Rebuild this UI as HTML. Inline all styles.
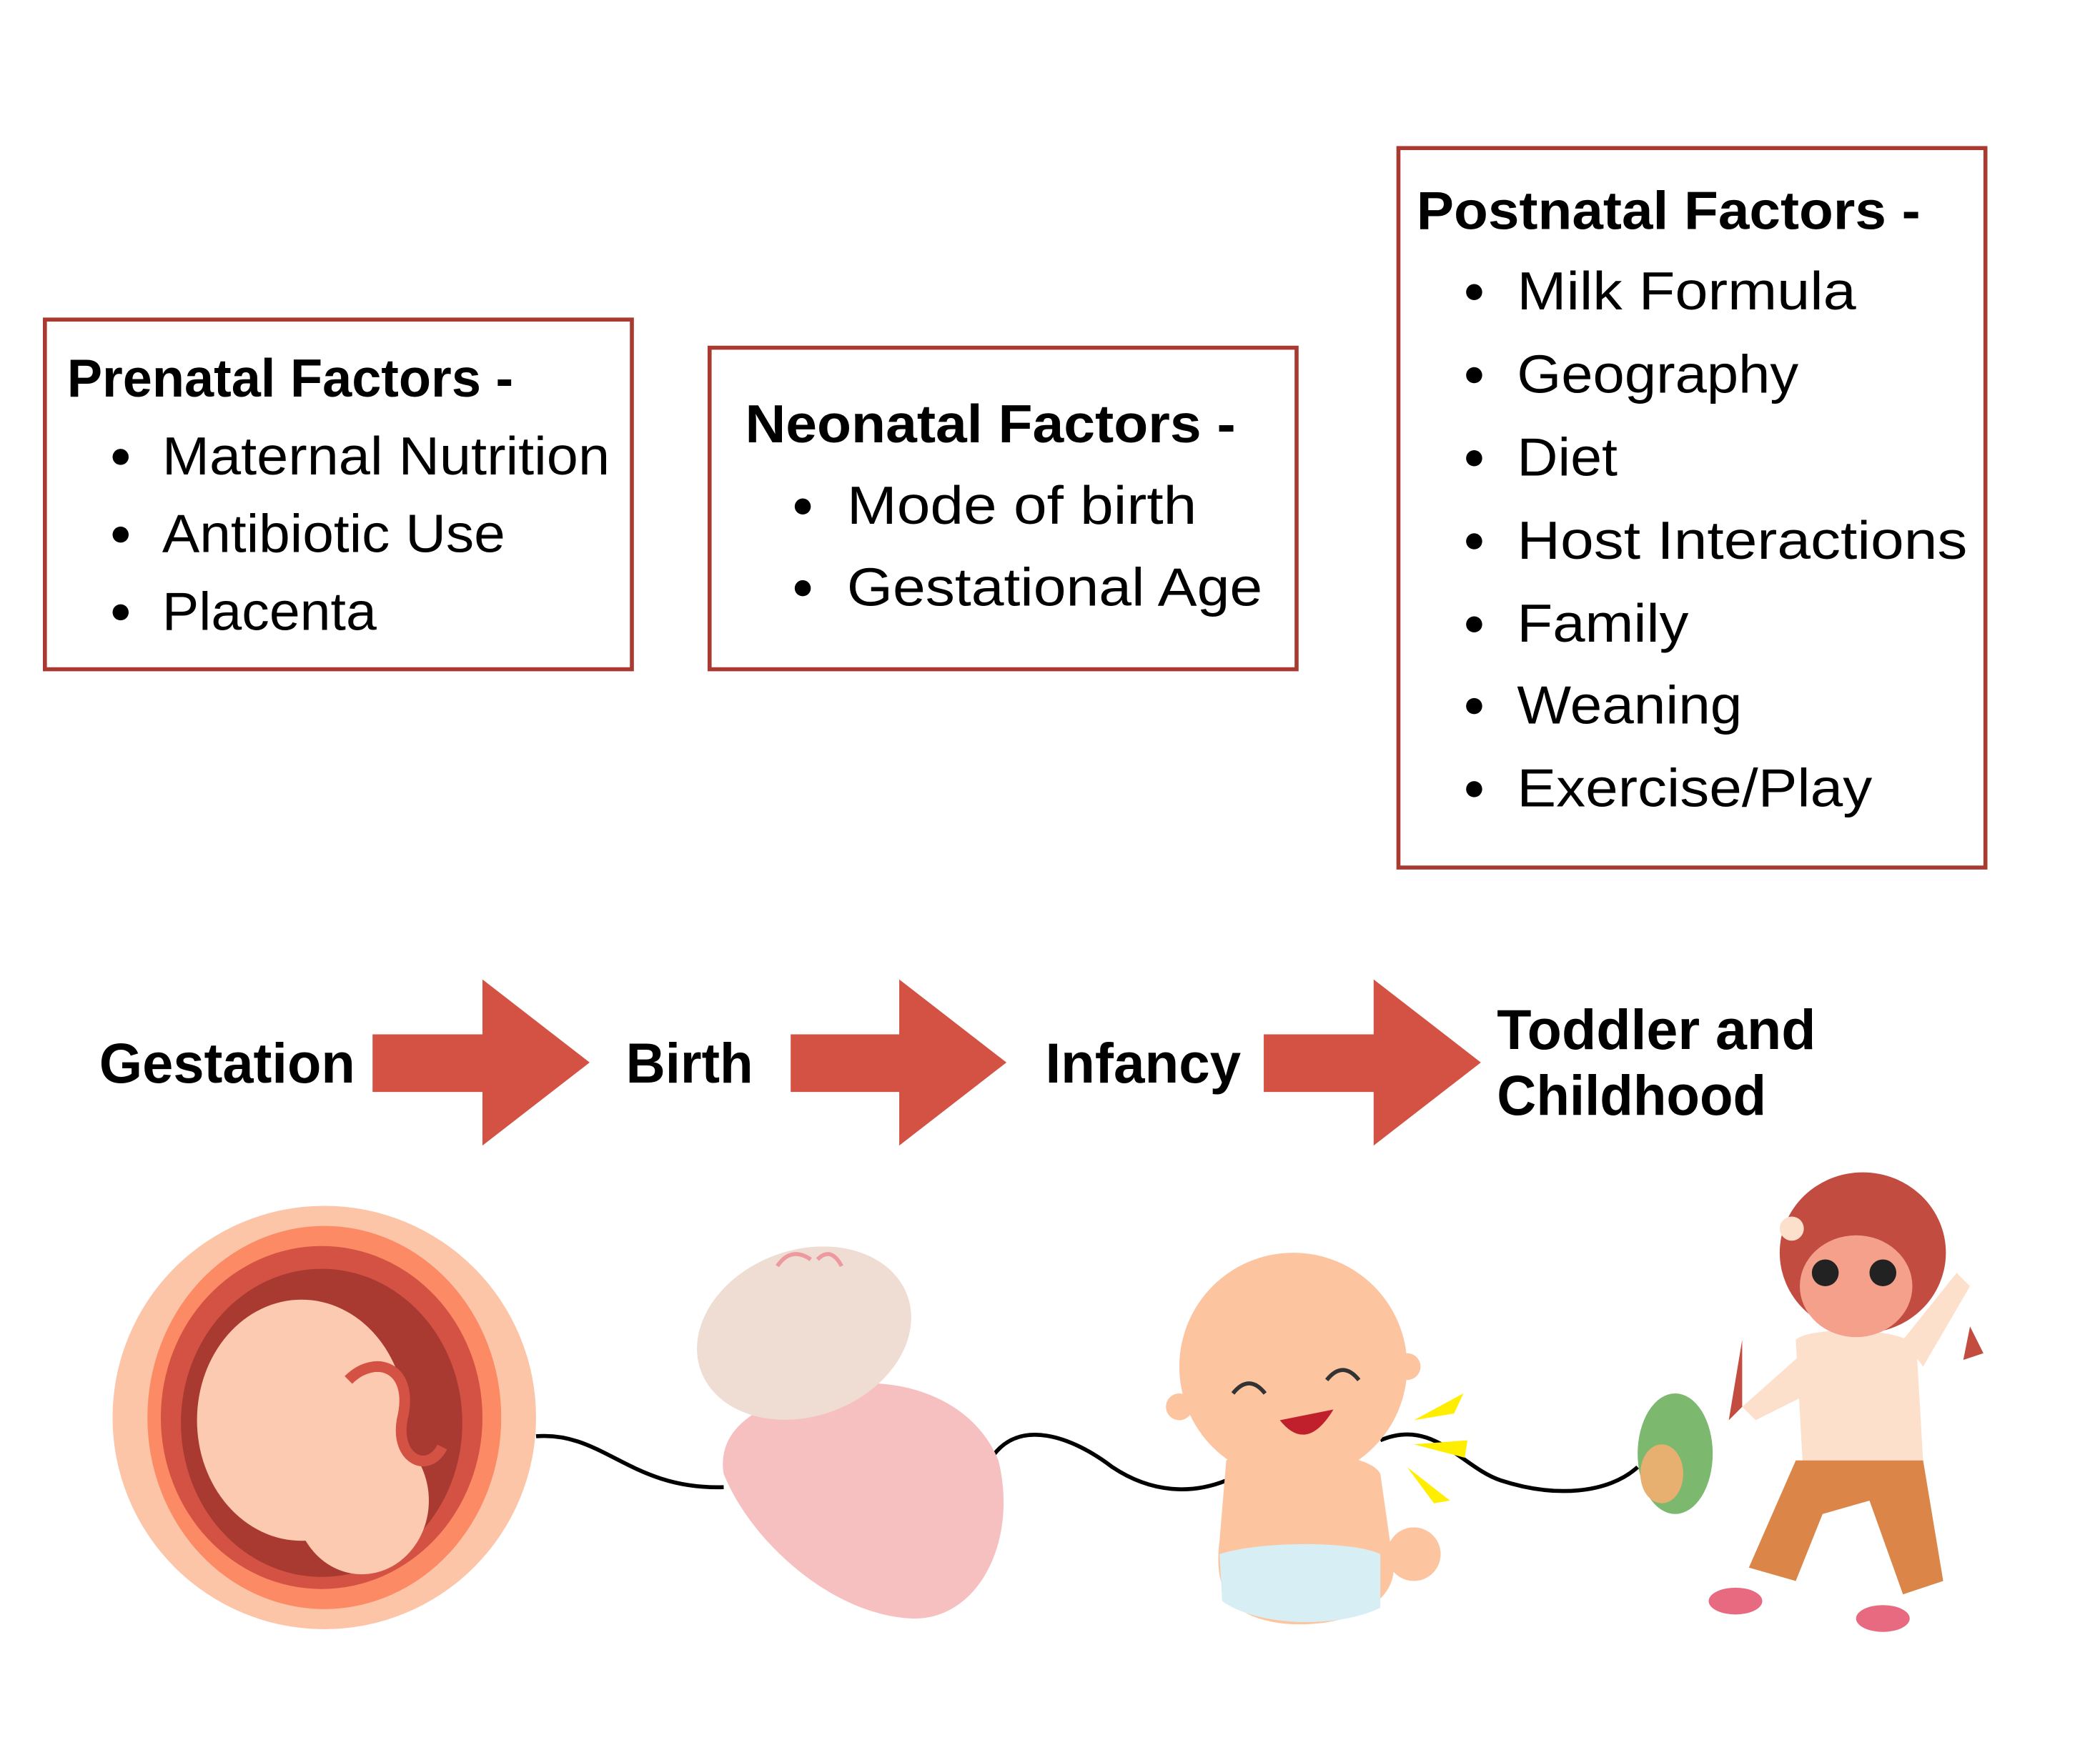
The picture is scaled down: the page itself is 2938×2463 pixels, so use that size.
<!DOCTYPE html>
<html><head><meta charset="utf-8"><style>
html,body{margin:0;padding:0;background:#fff;width:2938px;height:2463px;overflow:hidden}
svg{display:block}
text{font-family:"Liberation Sans",sans-serif;fill:#000}
.t{font-weight:bold;font-size:40px}
.i{font-size:40px}
.l{font-weight:bold;font-size:42px}
</style></head><body>
<svg width="2938" height="2463" viewBox="0 0 1567 1313.6" xmlns="http://www.w3.org/2000/svg">
<rect width="1567" height="1314" fill="#fff"/>
<g fill="none" stroke="#a83a32" stroke-width="3">
<rect x="33.5" y="238.5" width="438" height="261"/>
<rect x="529.5" y="259.5" width="438" height="240"/>
<rect x="1043.5" y="110.5" width="438" height="537"/>
</g>
<text class="t" x="50" y="296" textLength="333" lengthAdjust="spacingAndGlyphs">Prenatal Factors -</text>
<g fill="#000"><circle cx="90" cy="341" r="6"/><circle cx="90" cy="399" r="6"/><circle cx="90" cy="457" r="6"/>
<circle cx="599" cy="378" r="6"/><circle cx="599" cy="439" r="6"/>
<circle cx="1100" cy="218" r="6"/><circle cx="1100" cy="280" r="6"/><circle cx="1100" cy="342" r="6"/><circle cx="1100" cy="404" r="6"/><circle cx="1100" cy="466" r="6"/><circle cx="1100" cy="527" r="6"/><circle cx="1100" cy="589" r="6"/></g>
<text class="i" x="121" y="354" textLength="334" lengthAdjust="spacingAndGlyphs">Maternal Nutrition</text>
<text class="i" x="121" y="412" textLength="256" lengthAdjust="spacingAndGlyphs">Antibiotic Use</text>
<text class="i" x="121" y="470" textLength="160" lengthAdjust="spacingAndGlyphs">Placenta</text>
<text class="t" x="556" y="330" textLength="366" lengthAdjust="spacingAndGlyphs">Neonatal Factors -</text>
<text class="i" x="632" y="391" textLength="261" lengthAdjust="spacingAndGlyphs">Mode of birth</text>
<text class="i" x="632" y="452" textLength="310" lengthAdjust="spacingAndGlyphs">Gestational Age</text>
<text class="t" x="1057" y="171" textLength="376" lengthAdjust="spacingAndGlyphs">Postnatal Factors -</text>
<text class="i" x="1132" y="231" textLength="253" lengthAdjust="spacingAndGlyphs">Milk Formula</text>
<text class="i" x="1132" y="293" textLength="210" lengthAdjust="spacingAndGlyphs">Geography</text>
<text class="i" x="1132" y="355" textLength="75" lengthAdjust="spacingAndGlyphs">Diet</text>
<text class="i" x="1132" y="417" textLength="336" lengthAdjust="spacingAndGlyphs">Host Interactions</text>
<text class="i" x="1132" y="479" textLength="128" lengthAdjust="spacingAndGlyphs">Family</text>
<text class="i" x="1132" y="540" textLength="168" lengthAdjust="spacingAndGlyphs">Weaning</text>
<text class="i" x="1132" y="602" textLength="265" lengthAdjust="spacingAndGlyphs">Exercise/Play</text>

<g fill="#d35244">
<polygon points="278,772 360,772 360,731 440,793 360,855 360,815 278,815"/>
<polygon points="590,772 671,772 671,731 751,793 671,855 671,815 590,815"/>
<polygon points="943,772 1025,772 1025,731 1105,793 1025,855 1025,815 943,815"/>
</g>
<text class="l" x="74" y="808" textLength="191" lengthAdjust="spacingAndGlyphs">Gestation</text>
<text class="l" x="467" y="808" textLength="95" lengthAdjust="spacingAndGlyphs">Birth</text>
<text class="l" x="780" y="808" textLength="146" lengthAdjust="spacingAndGlyphs">Infancy</text>
<text class="l" x="1117" y="783" textLength="238" lengthAdjust="spacingAndGlyphs">Toddler and</text>
<text class="l" x="1117" y="832" textLength="201" lengthAdjust="spacingAndGlyphs">Childhood</text>

<path d="M400,1072 C450,1068 470,1112 540,1110 M740,1088 C760,1058 800,1072 830,1095 C860,1115 890,1115 915,1105 M1030,1075 C1070,1058 1090,1095 1120,1105 C1160,1118 1200,1115 1222,1095" fill="none" stroke="#000" stroke-width="3"/>

<circle cx="242" cy="1058" r="158" fill="#fcc5a8"/>
<ellipse cx="242" cy="1058" rx="132" ry="143" fill="#fb8a65"/>
<ellipse cx="240" cy="1058" rx="120" ry="128" fill="#d35244"/>
<ellipse cx="240" cy="1062" rx="105" ry="115" fill="#a83a32"/>
<ellipse cx="225" cy="1060" rx="78" ry="90" fill="#fccab0"/>
<ellipse cx="270" cy="1120" rx="50" ry="55" fill="#fccab0"/>
<path d="M260,1030 C280,1010 310,1020 300,1060 C295,1090 320,1100 330,1080" fill="none" stroke="#d35244" stroke-width="8"/>

<path d="M600,1040 C660,1020 725,1040 745,1090 C760,1150 730,1210 680,1208 C620,1205 560,1150 540,1100 C535,1070 560,1050 600,1040 Z" fill="#f7c0c0"/>
<ellipse cx="600" cy="995" rx="82" ry="62" fill="#efddd3" transform="rotate(-20 600 995)"/>
<path d="M580,945 q10,-15 25,-5 M610,940 q10,-10 18,5" stroke="#ec9aa0" stroke-width="3" fill="none"/>

<path d="M915,1090 C930,1080 1020,1080 1030,1100 L1040,1170 C1040,1200 1000,1215 960,1212 C920,1208 905,1190 910,1150 Z" fill="#fdc4a0"/>
<path d="M910,1160 C940,1150 1010,1150 1030,1160 L1030,1200 C1000,1215 940,1215 912,1195 Z" fill="#d8eef5"/>
<circle cx="1055" cy="1160" r="20" fill="#fdc4a0"/>
<circle cx="965" cy="1020" r="85" fill="#fdc4a0"/>
<circle cx="880" cy="1050" r="10" fill="#fdc4a0"/>
<circle cx="1050" cy="1020" r="10" fill="#fdc4a0"/>
<path d="M955,1060 q20,25 40,-8 Z" fill="#c0202c"/>
<path d="M920,1040 q12,-15 24,0 M990,1030 q12,-15 24,0" stroke="#333" stroke-width="3" fill="none"/>
<g fill="#ffee00"><polygon points="1055,1060 1092,1040 1085,1055"/><polygon points="1055,1078 1095,1075 1093,1088"/><polygon points="1050,1095 1082,1120 1070,1122"/></g>

<path d="M1300,1000 L1290,1060 L1300,1050 Z M1470,990 L1480,1010 L1465,1015 Z" fill="#c24c40"/>
<path d="M1340,1000 C1350,990 1420,990 1430,1005 L1435,1090 L1345,1090 Z" fill="#fde0cc"/>
<path d="M1420,1000 L1460,950 L1470,960 L1435,1020 Z M1345,1010 L1300,1050 L1310,1060 L1350,1040 Z" fill="#fde0cc"/>
<path d="M1340,1090 L1435,1090 L1450,1180 L1420,1190 L1395,1120 L1360,1130 L1340,1180 L1305,1170 Z" fill="#db8648"/>
<ellipse cx="1295" cy="1195" rx="20" ry="10" fill="#e86a80"/>
<ellipse cx="1405" cy="1208" rx="20" ry="10" fill="#e86a80"/>
<ellipse cx="1390" cy="935" rx="62" ry="60" fill="#c24c40"/>
<ellipse cx="1385" cy="960" rx="42" ry="38" fill="#f4a08a"/>
<circle cx="1362" cy="950" r="10" fill="#222"/><circle cx="1405" cy="950" r="10" fill="#222"/>
<circle cx="1337" cy="917" r="9" fill="#fde0cc"/>
<ellipse cx="1250" cy="1085" rx="28" ry="45" fill="#7cb86e"/>
<ellipse cx="1240" cy="1100" rx="16" ry="22" fill="#e8b070"/>
</svg>
</body></html>
